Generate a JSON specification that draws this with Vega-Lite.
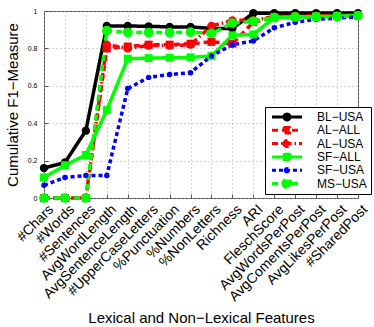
{
  "$schema": "https://vega.github.io/schema/vega-lite/v6.json",
  "width": 314,
  "height": 187,
  "autosize": {"type": "none"},
  "padding": {"left": 44, "top": 11, "right": 16, "bottom": 129},
  "config": {
    "font": "Liberation Sans",
    "view": {"stroke": "#555", "strokeWidth": 1},
    "axis": {
      "gridColor": "#aaa",
      "gridDash": [1, 3],
      "gridWidth": 1,
      "domainColor": "#555",
      "tickColor": "#555",
      "labelColor": "#000",
      "titleColor": "#000",
      "titleFontWeight": "normal"
    }
  },
  "data": {
    "values": [
      {"s": "BL-USA", "f": "#Chars", "v": 0.16},
      {"s": "BL-USA", "f": "#Words", "v": 0.19},
      {"s": "BL-USA", "f": "#Sentences", "v": 0.36},
      {"s": "BL-USA", "f": "AvgWordLength", "v": 0.92},
      {"s": "BL-USA", "f": "AvgSentenceLength", "v": 0.92},
      {"s": "BL-USA", "f": "#UpperCaseLetters", "v": 0.918},
      {"s": "BL-USA", "f": "%Punctuation", "v": 0.915},
      {"s": "BL-USA", "f": "%Numbers", "v": 0.915},
      {"s": "BL-USA", "f": "%NonLetters", "v": 0.907},
      {"s": "BL-USA", "f": "Richness", "v": 0.907},
      {"s": "BL-USA", "f": "ARI", "v": 0.988},
      {"s": "BL-USA", "f": "FleschScore", "v": 0.988},
      {"s": "BL-USA", "f": "AvgWordsPerPost", "v": 0.988},
      {"s": "BL-USA", "f": "AvgComentsPerPost", "v": 0.988},
      {"s": "BL-USA", "f": "AvgLikesPerPost", "v": 0.988},
      {"s": "BL-USA", "f": "#SharedPost", "v": 0.988},

      {"s": "AL-ALL", "f": "#Chars", "v": 0},
      {"s": "AL-ALL", "f": "#Words", "v": 0},
      {"s": "AL-ALL", "f": "#Sentences", "v": 0},
      {"s": "AL-ALL", "f": "AvgWordLength", "v": 0.80},
      {"s": "AL-ALL", "f": "AvgSentenceLength", "v": 0.81},
      {"s": "AL-ALL", "f": "#UpperCaseLetters", "v": 0.82},
      {"s": "AL-ALL", "f": "%Punctuation", "v": 0.82},
      {"s": "AL-ALL", "f": "%Numbers", "v": 0.825},
      {"s": "AL-ALL", "f": "%NonLetters", "v": 0.835},
      {"s": "AL-ALL", "f": "Richness", "v": 0.825},
      {"s": "AL-ALL", "f": "ARI", "v": 0.94},
      {"s": "AL-ALL", "f": "FleschScore", "v": 0.965},
      {"s": "AL-ALL", "f": "AvgWordsPerPost", "v": 0.97},
      {"s": "AL-ALL", "f": "AvgComentsPerPost", "v": 0.972},
      {"s": "AL-ALL", "f": "AvgLikesPerPost", "v": 0.975},
      {"s": "AL-ALL", "f": "#SharedPost", "v": 0.978},

      {"s": "AL-USA", "f": "#Chars", "v": 0},
      {"s": "AL-USA", "f": "#Words", "v": 0},
      {"s": "AL-USA", "f": "#Sentences", "v": 0},
      {"s": "AL-USA", "f": "AvgWordLength", "v": 0.82},
      {"s": "AL-USA", "f": "AvgSentenceLength", "v": 0.80},
      {"s": "AL-USA", "f": "#UpperCaseLetters", "v": 0.815},
      {"s": "AL-USA", "f": "%Punctuation", "v": 0.815},
      {"s": "AL-USA", "f": "%Numbers", "v": 0.82},
      {"s": "AL-USA", "f": "%NonLetters", "v": 0.92},
      {"s": "AL-USA", "f": "Richness", "v": 0.95},
      {"s": "AL-USA", "f": "ARI", "v": 0.95},
      {"s": "AL-USA", "f": "FleschScore", "v": 0.97},
      {"s": "AL-USA", "f": "AvgWordsPerPost", "v": 0.972},
      {"s": "AL-USA", "f": "AvgComentsPerPost", "v": 0.974},
      {"s": "AL-USA", "f": "AvgLikesPerPost", "v": 0.976},
      {"s": "AL-USA", "f": "#SharedPost", "v": 0.978},

      {"s": "SF-ALL", "f": "#Chars", "v": 0.11},
      {"s": "SF-ALL", "f": "#Words", "v": 0.175},
      {"s": "SF-ALL", "f": "#Sentences", "v": 0.23},
      {"s": "SF-ALL", "f": "AvgWordLength", "v": 0.47},
      {"s": "SF-ALL", "f": "AvgSentenceLength", "v": 0.745},
      {"s": "SF-ALL", "f": "#UpperCaseLetters", "v": 0.748},
      {"s": "SF-ALL", "f": "%Punctuation", "v": 0.75},
      {"s": "SF-ALL", "f": "%Numbers", "v": 0.752},
      {"s": "SF-ALL", "f": "%NonLetters", "v": 0.76},
      {"s": "SF-ALL", "f": "Richness", "v": 0.87},
      {"s": "SF-ALL", "f": "ARI", "v": 0.875},
      {"s": "SF-ALL", "f": "FleschScore", "v": 0.965},
      {"s": "SF-ALL", "f": "AvgWordsPerPost", "v": 0.968},
      {"s": "SF-ALL", "f": "AvgComentsPerPost", "v": 0.97},
      {"s": "SF-ALL", "f": "AvgLikesPerPost", "v": 0.972},
      {"s": "SF-ALL", "f": "#SharedPost", "v": 0.975},

      {"s": "SF-USA", "f": "#Chars", "v": 0.068},
      {"s": "SF-USA", "f": "#Words", "v": 0.11},
      {"s": "SF-USA", "f": "#Sentences", "v": 0.12},
      {"s": "SF-USA", "f": "AvgWordLength", "v": 0.12},
      {"s": "SF-USA", "f": "AvgSentenceLength", "v": 0.585},
      {"s": "SF-USA", "f": "#UpperCaseLetters", "v": 0.645},
      {"s": "SF-USA", "f": "%Punctuation", "v": 0.66},
      {"s": "SF-USA", "f": "%Numbers", "v": 0.67},
      {"s": "SF-USA", "f": "%NonLetters", "v": 0.76},
      {"s": "SF-USA", "f": "Richness", "v": 0.82},
      {"s": "SF-USA", "f": "ARI", "v": 0.84},
      {"s": "SF-USA", "f": "FleschScore", "v": 0.91},
      {"s": "SF-USA", "f": "AvgWordsPerPost", "v": 0.94},
      {"s": "SF-USA", "f": "AvgComentsPerPost", "v": 0.955},
      {"s": "SF-USA", "f": "AvgLikesPerPost", "v": 0.962},
      {"s": "SF-USA", "f": "#SharedPost", "v": 0.968},

      {"s": "MS-USA", "f": "#Chars", "v": 0},
      {"s": "MS-USA", "f": "#Words", "v": 0},
      {"s": "MS-USA", "f": "#Sentences", "v": 0},
      {"s": "MS-USA", "f": "AvgWordLength", "v": 0.895},
      {"s": "MS-USA", "f": "AvgSentenceLength", "v": 0.885},
      {"s": "MS-USA", "f": "#UpperCaseLetters", "v": 0.885},
      {"s": "MS-USA", "f": "%Punctuation", "v": 0.885},
      {"s": "MS-USA", "f": "%Numbers", "v": 0.887},
      {"s": "MS-USA", "f": "%NonLetters", "v": 0.88},
      {"s": "MS-USA", "f": "Richness", "v": 0.935},
      {"s": "MS-USA", "f": "ARI", "v": 0.945},
      {"s": "MS-USA", "f": "FleschScore", "v": 0.965},
      {"s": "MS-USA", "f": "AvgWordsPerPost", "v": 0.968},
      {"s": "MS-USA", "f": "AvgComentsPerPost", "v": 0.968},
      {"s": "MS-USA", "f": "AvgLikesPerPost", "v": 0.97},
      {"s": "MS-USA", "f": "#SharedPost", "v": 0.975}
    ]
  },
  "encoding": {
    "x": {
      "field": "f",
      "type": "nominal",
      "sort": null,
      "scale": {"type": "point", "padding": 0},
      "axis": {
        "title": "Lexical and Non−Lexical Features",
        "titleFont": "Liberation Sans",
        "titleFontSize": 15,
        "titleY": 112,
        "titleBaseline": "top",
        "labelFontSize": 14,
        "labelAngle": -45,
        "labelAlign": "right",
        "labelBaseline": "middle",
        "labelPadding": 13,
        "labelOffset": 7,
        "tickSize": -4,
        "grid": true,
        "domain": false
      }
    },
    "y": {
      "field": "v",
      "type": "quantitative",
      "scale": {"domain": [0, 1], "nice": false},
      "axis": {
        "title": "Cumulative F1−Measure",
        "titleFontSize": 15,
        "titleX": -32,
        "titleBaseline": "middle",
        "values": [0, 0.2, 0.4, 0.6, 0.8, 1],
        "format": "~g",
        "labelFontSize": 7,
        "labelPadding": 11,
        "tickSize": -4,
        "grid": true,
        "domain": false
      }
    },
    "color": {
      "field": "s",
      "type": "nominal",
      "scale": {
        "domain": ["BL-USA", "AL-ALL", "AL-USA", "SF-ALL", "SF-USA", "MS-USA"],
        "range": ["#000000", "#ff0000", "#ff0000", "#00ff00", "#0000ff", "#00ff00"]
      },
      "legend": {
        "title": null,
        "orient": "none",
        "legendX": 221,
        "legendY": 96,
        "fillColor": "#ffffff",
        "strokeColor": "#000000",
        "padding": 4,
        "labelFontSize": 12,
        "labelFont": "Liberation Sans",
        "labelOffset": 24,
        "symbolOffset": 12,
        "symbolSize": 25,
        "rowPadding": 1.3,
        "labelExpr": "replace(datum.label, '-', '−')",
        "encode": {
          "symbols": {
            "update": {
              "shape": {"signal": "datum.value === 'AL-ALL' || datum.value === 'SF-ALL' ? 'M-6,0H6M-1.1,-1.1H1.1V1.1H-1.1Z' : (datum.value === 'SF-USA' ? 'M-6,0H6M-0.7,0A0.7,0.7,0,1,0,0.7,0A0.7,0.7,0,1,0,-0.7,0Z' : (datum.value === 'MS-USA' ? 'M-6,0H6M-1.6,0A1.6,1.6,0,1,0,1.6,0A1.6,1.6,0,1,0,-1.6,0Z' : 'M-6,0H6M-1.2,0A1.2,1.2,0,1,0,1.2,0A1.2,1.2,0,1,0,-1.2,0Z'))"},
              "strokeDash": {"signal": "datum.value === 'AL-ALL' || datum.value === 'MS-USA' ? [6,4] : (datum.value === 'AL-USA' ? [6,3,1.5,3] : (datum.value === 'SF-USA' ? [4,3] : [1,0]))"},
              "stroke": {"scale": "color", "field": "value"},
              "fill": {"scale": "color", "field": "value"},
              "strokeWidth": {"value": 3},
              "strokeJoin": {"value": "round"},
              "opacity": {"value": 1}
            }
          }
        }
      }
    }
  },
  "layer": [
    {
      "mark": {"type": "line", "strokeWidth": 3.5},
      "encoding": {
        "strokeDash": {
          "field": "s",
          "type": "nominal",
          "scale": {
            "domain": ["BL-USA", "AL-ALL", "AL-USA", "SF-ALL", "SF-USA", "MS-USA"],
            "range": [[1, 0], [6, 4], [6, 3, 1.5, 3], [1, 0], [4, 3], [6, 4]]
          },
          "legend": null
        }
      }
    },
    {
      "transform": [{"filter": {"field": "s", "oneOf": ["BL-USA", "AL-USA"]}}],
      "mark": {"type": "point", "shape": "circle", "filled": true, "opacity": 1, "size": 70}
    },
    {
      "transform": [{"filter": {"field": "s", "oneOf": ["AL-ALL", "SF-ALL"]}}],
      "mark": {"type": "point", "shape": "square", "filled": true, "opacity": 1, "size": 64}
    },
    {
      "transform": [{"filter": {"field": "s", "equal": "SF-USA"}}],
      "mark": {"type": "point", "shape": "circle", "filled": true, "opacity": 1, "size": 30}
    },
    {
      "transform": [{"filter": {"field": "s", "equal": "MS-USA"}}],
      "mark": {"type": "point", "shape": "circle", "filled": true, "opacity": 1, "size": 95}
    }
  ]
}
